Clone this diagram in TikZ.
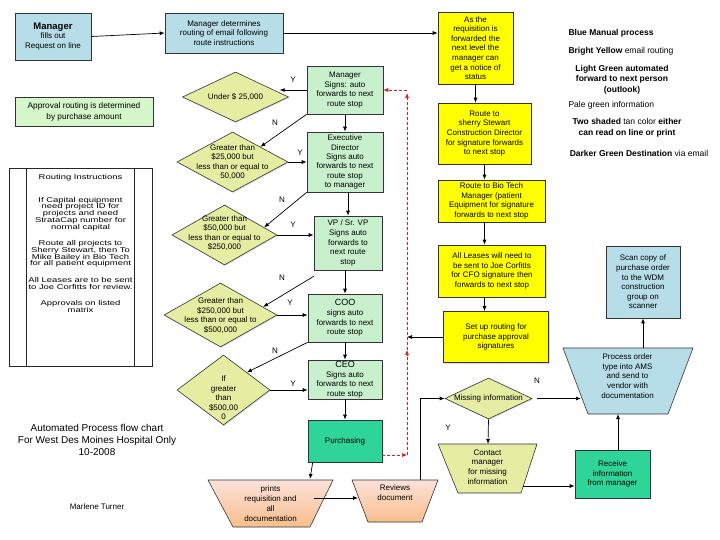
\documentclass[tikz,border=0pt]{standalone}
\usepackage{fontspec}
\setmainfont{Liberation Sans}
\newfontfamily\widefont{Liberation Sans}[FakeStretch=1.35]
\usetikzlibrary{shapes.geometric,arrows.meta,shadows,calc}
\definecolor{lblue}{RGB}{183,221,232}
\definecolor{yel}{RGB}{255,255,0}
\definecolor{lgreen}{RGB}{200,240,205}
\definecolor{pgreen}{RGB}{212,246,200}
\definecolor{dgreen}{RGB}{46,212,152}
\definecolor{dyel}{RGB}{230,236,162}
\definecolor{tanA}{RGB}{252,226,218}
\definecolor{tanB}{RGB}{243,158,92}
\definecolor{tanC}{RGB}{248,190,140}
\definecolor{dred}{RGB}{215,30,30}
\begin{document}
\begin{tikzpicture}[x=1pt,y=-1pt]
\tikzset{
  every node/.style={font=\fontsize{8}{9.6}\selectfont},
  box/.style={draw=black!80, line width=0.6pt, align=center, inner sep=1pt,
    drop shadow={shadow xshift=1pt,shadow yshift=-1pt,opacity=0.3}},
  bluebox/.style={box, fill=lblue},
  ybox/.style={box, fill=yel},
  gbox/.style={box, fill=lgreen},
  dgbox/.style={box, fill=dgreen},
  dia/.style={diamond, draw=black!80, line width=0.6pt, fill=dyel, inner sep=0pt,
    drop shadow={shadow xshift=1pt,shadow yshift=-1pt,opacity=0.25}},
  dtext/.style={align=center, font=\fontsize{8}{9.5}\selectfont},
  trap/.style={draw=black!80, line width=0.6pt},
  yn/.style={font=\fontsize{8}{9.6}\selectfont},
  leg/.style={font=\fontsize{8.5}{10.5}\selectfont, align=center},
  arr/.style={-{Latex[length=5pt,width=4pt]}, line width=0.7pt, black},
  redarr/.style={-{Latex[length=5pt,width=4pt]}, line width=0.6pt, dred, dash pattern=on 3pt off 2pt},
}
\useasboundingbox (0,0) rectangle (720,540);
\fill[white] (0,0) rectangle (720,540);

% top row
\node[bluebox, minimum width=76, minimum height=47] (mgr) at (53,36.5)
  {{\fontsize{9.5}{11}\selectfont\bfseries Manager}\\fills out\\Request on line};
\node[bluebox, minimum width=118, minimum height=40] (det) at (224,33)
  {Manager determines\\routing of email  following\\route instructions};
\node[ybox, minimum width=75, minimum height=72] (req) at (475.5,48)
  {As the\\requisition is\\forwarded the\\next level the\\manager can\\get a notice of\\status};

% yellow column
\node[ybox, minimum width=93, minimum height=61] (sherry) at (484.5,133.5)
  {Route to\\sherry Stewart\\Construction Director\\for signature forwards\\to next stop};
\node[ybox, minimum width=107, minimum height=42] (bio) at (491.5,201)
  {Route to Bio Tech\\Manager (patient\\Equipment for signature\\forwards to next stop};
\node[ybox, minimum width=107, minimum height=52] (lease) at (492,271)
  {All Leases will need to\\be sent to Joe Corfitts\\for CFO signature then\\forwards to next stop};
\node[ybox, minimum width=105, minimum height=51] (setup) at (496,337)
  {Set up routing for\\purchase approval\\signatures};

% info boxes
\node[box, fill=pgreen, minimum width=138, minimum height=29,
  font=\fontsize{8.3}{11}\selectfont] (appr) at (84,111.5)
  {Approval routing is determined\\by purchase amount};
\node[draw=black!85, line width=0.6pt, minimum width=143, minimum height=198, inner sep=0pt] (rbox) at (80.5,267) {};
\draw[line width=0.6pt, black!85] ([xshift=18pt]rbox.north west) -- ([xshift=18pt]rbox.south west);
\draw[line width=0.6pt, black!85] ([xshift=-18pt]rbox.north east) -- ([xshift=-18pt]rbox.south east);
\node[anchor=north, align=center, inner sep=0pt, font=\widefont\fontsize{7}{6.8}\selectfont] (rtext) at (80.5,174)
  {Routing Instructions\\[16pt]If Capital equipment\\need project ID for\\projects and need\\StrataCap number for\\normal capital\\[9.5pt]Route all projects to\\Sherry Stewart, then To\\Mike Bailey in Bio Tech\\for all patient equipment\\[9.5pt]All Leases are to be sent\\to Joe Corfitts for review.\\[9.5pt]Approvals on listed\\matrix};

% diamonds
\node[dia, minimum width=106, minimum height=50] (d1) at (235.5,97) {};
\node[dtext] (d1t) at (d1) {Under \$ 25,000};
\node[dia, minimum width=111, minimum height=60] (d2) at (232.5,162) {};
\node[dtext] (d2t) at (d2) {Greater than\\\$25,000 but\\less than or equal to\\50,000};
\node[dia, minimum width=105, minimum height=60] (d3) at (224.5,235) {};
\node[dtext] (d3t) at (224.5,233) {Greater than\\\$50,000 but\\less than or equal to\\\$250,000};
\node[dia, minimum width=113, minimum height=64] (d4) at (220.5,315) {};
\node[dtext] (d4t) at (220.5,315.5) {Greater than\\\$250,000 but\\less than or equal to\\\$500,000};
\node[dia, minimum width=93, minimum height=70] (d5) at (223.5,390) {};
\node[dtext] (d5t) at (223.5,398) {If\\greater\\than\\\$500,00\\0};

% green column
\node[gbox, minimum width=76, minimum height=48] (g1) at (345,90)
  {Manager\\Signs: auto\\forwards to next\\route stop};
\node[gbox, minimum width=76, minimum height=60, font=\fontsize{8}{9.3}\selectfont] (g2) at (345,162)
  {Executive\\Director\\Signs auto\\forwards to next\\route stop\\to manager};
\node[gbox, minimum width=68, minimum height=54] (g3) at (348,243)
  {VP / Sr. VP\\Signs auto\\forwards to\\next route\\stop};
\node[gbox, minimum width=74, minimum height=48] (g4) at (345,318)
  {{\fontsize{9}{10}\selectfont COO}\\signs auto\\forwards to next\\route stop};
\node[gbox, minimum width=74, minimum height=39] (g5) at (345,379.5)
  {{\fontsize{9}{10}\selectfont CEO}\\Signs auto\\forwards to next\\route stop};
\node[dgbox, minimum width=74, minimum height=42] (purch) at (345,441) {Purchasing};

% bottom trapezoids
\shadedraw[trap, top color=tanA, middle color=tanB, bottom color=tanC]
  (208,480) -- (333,480) -- (310,527) -- (233,527) -- cycle;
\node[align=center, font=\fontsize{8}{10}\selectfont] (prints) at (270.5,504)
  {prints\\requisition and\\all\\documentation};
\shadedraw[trap, top color=tanA, middle color=tanB, bottom color=tanC]
  (352,480) -- (438,480) -- (422,522) -- (368,522) -- cycle;
\node[align=center, font=\fontsize{8}{10}\selectfont] (reviews) at (395,493)
  {Reviews\\document};
\filldraw[trap, fill=dyel] (438,444) -- (537,444) -- (521,493) -- (458,493) -- cycle;
\node[align=center] (contact) at (487.5,467)
  {Contact\\manager\\for missing\\information};
\filldraw[trap, fill=lblue] (563,348) -- (693,348) -- (668,414) -- (588,414) -- cycle;
\node[align=center] (proc) at (627.5,376)
  {Process order\\type into AMS\\and send to\\vendor with\\documentation};

\node[dia, minimum width=87, minimum height=41] (miss) at (488.5,398.5) {};
\node[dtext] (misst) at (miss) {Missing information};
\node[dgbox, minimum width=75, minimum height=48] (recv) at (612.5,474)
  {Receive\\information\\from manager};
\node[bluebox, minimum width=74, minimum height=72] (scan) at (643,282)
  {Scan copy of\\purchase order\\to the WDM\\construction\\group on\\scanner};

% coordinates on trapezoid edges
\coordinate (prTop) at (310,479);
\coordinate (rvL) at (358,498);
\coordinate (rvTop) at (420,480);
\coordinate (ctTop) at (488,444);
\coordinate (ctR) at (523,486);
\coordinate (pcL) at (581,398.5);
\coordinate (pcB) at (618,414);
\coordinate (pcT) at (643,348);
\coordinate (r1) at (407,455);
\coordinate (r2) at (407,350);
\coordinate (r3) at (407,93);
\coordinate (r4) at (407,90);

% connectors
\draw[arr] (mgr.east) -- (det.west);
\draw[arr] (det.east) -- (det.east -| req.west);
\draw[arr] (req.south) -- (req.south |- sherry.north);
\draw[arr] (sherry.south) -- (sherry.south |- bio.north);
\draw[arr] (bio.south -| sherry.south) -- (sherry.south |- lease.north);
\draw[arr] (lease.south -| sherry.south) -- (sherry.south |- setup.north);
\draw[arr] (setup.west) -- (setup.west -| r1);

\draw[arr] (g1.west) -- ++(-27,0);
\draw[arr] (g1.south west) -- (d2.north east);
\draw[arr] (d2.east) -- (g2.west);
\draw[arr] (g2.south west) -- ($(d3.north east)!0.5!(d3.east)$);
\draw[arr] (d3.east) -- (d3.east -| g3.west);
\draw[arr] ([yshift=-6pt]g3.south west) -- ($(d4.north east)!0.5!(d4.east)$);
\draw[arr] (d4.east) -- (d4.east -| g4.west);
\draw[arr] (g4.south west) -- (d5.north east);
\draw[arr] (d5.east) -- (d5.east -| g5.west);

\draw[arr] (g1.south) -- (g2.north);
\draw[arr] (g3.north |- g2.south) -- (g3.north);
\draw[arr] (g4.north |- g3.south) -- (g4.north);
\draw[arr] (g4.south) -- (g5.north);
\draw[arr] (g5.south) -- (purch.north);

\draw[arr] ([xshift=5pt]purch.south west) -- (prTop);
\draw[arr] ([shift={(43,-6)}]prints.center) -- (rvL);
\draw[arr] (rvTop) |- (miss.west);
\draw[arr, shorten <=5pt] (miss.east) -- (pcL);
\draw[arr] (miss.south) -- (ctTop);
\draw[arr] (ctR) -- (ctR -| recv.west);
\draw[arr] (recv.north -| pcB) -- (pcB);
\draw[arr] (pcT) -- (scan.south);

% red dashed return path
\draw[redarr] ([yshift=-14pt]purch.east) -- (r1);
\draw[redarr] (r1) -- (r2);
\draw[redarr] (r2) -- (r3);
\draw[redarr] (r4) -- (r4 -| g1.east);

% Y / N labels
\node[yn] (y1) at (293,80) {Y};
\node[yn] (n1) at (275,123) {N};
\node[yn] (y2) at (300,153) {Y};
\node[yn] (n2) at (282,200) {N};
\node[yn] (y3) at (293,225) {Y};
\node[yn] (n3) at (282,278) {N};
\node[yn] (y4) at (290,303) {Y};
\node[yn] (n4) at (275,351) {N};
\node[yn] (y5) at (293,384) {Y};
\node[yn] (nM) at (537,381) {N};
\node[yn] (yM) at (448,428) {Y};

% legend
\node[leg, anchor=west, font=\fontsize{8.5}{10.5}\selectfont\bfseries] (L1) at (565,33) {Blue Manual process};
\node[leg, anchor=west] (L2) at (565,51) {\textbf{Bright Yellow} email routing};
\node[leg, font=\fontsize{8.5}{10.5}\selectfont\bfseries] (L3) at (622,79.5) {Light Green automated\\forward to next person\\(outlook)};
\node[leg, anchor=west] (L4) at (565,105) {Pale green information};
\node[leg] (L5) at (627,128) {\textbf{Two shaded} tan color \textbf{either}\\\textbf{can read on line or print}};
\node[leg] (L6) at (639,153) {\textbf{Darker Green Destination} via email};

% title
\node[align=center, font=\fontsize{10}{12}\selectfont] (title) at (97,440)
  {Automated Process flow chart\\For West Des Moines Hospital Only\\10-2008};
\node (author) at (97,507) {Marlene Turner};
\end{tikzpicture}
\end{document}
